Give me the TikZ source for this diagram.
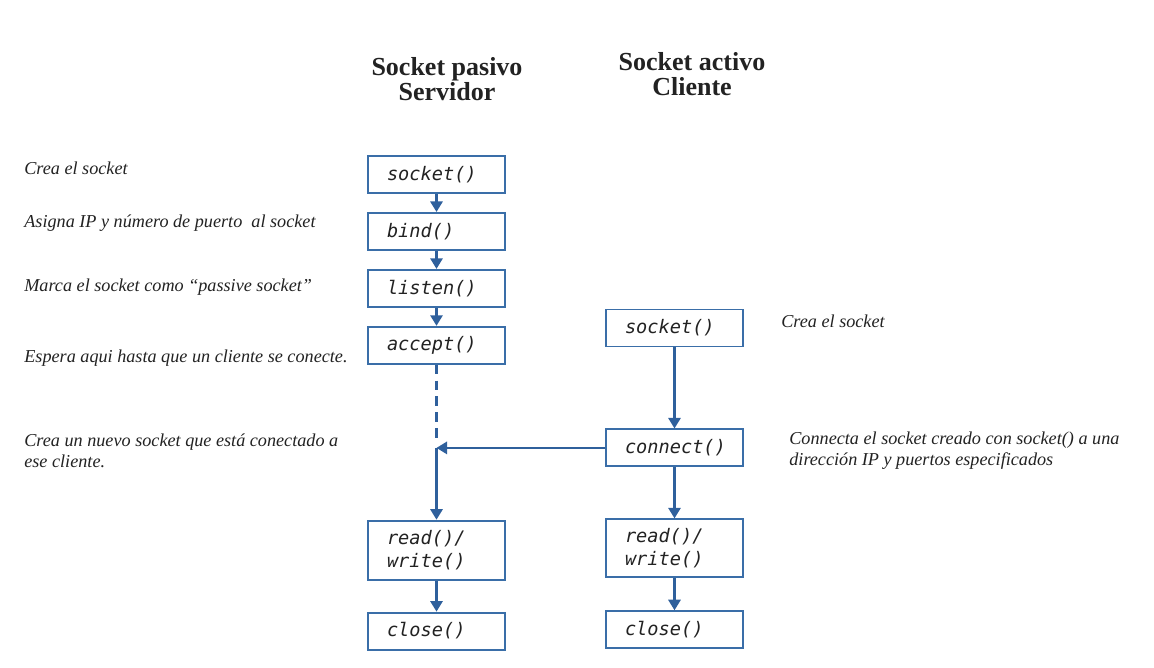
\documentclass[tikz,border=0pt]{standalone}
\usepackage{fontspec}
\setmainfont{Liberation Serif}
\setmonofont{DejaVu Sans Mono}
\usetikzlibrary{arrows.meta,positioning}

\definecolor{boxblue}{HTML}{3A6EA8}
\definecolor{arrblue}{HTML}{2F609C}
\definecolor{txtgray}{HTML}{222222}

\begin{document}
\begin{tikzpicture}[
      x=0.02cm,y=-0.02cm,
      node distance=0.36cm,
      call/.style={draw=boxblue,line width=1.1pt,minimum width=2.74cm,
                   minimum height=0.74cm,text width=1.98cm,align=left,
                   inner xsep=0.38cm,text=txtgray,
                   font=\ttfamily\itshape\fontsize{10.6}{13}\selectfont},
      note/.style={anchor=west,align=left,inner sep=0pt,text=txtgray,
                   font=\itshape\fontsize{10.35}{12}\selectfont},
      head/.style={align=center,text=txtgray,
                   font=\bfseries\fontsize{14.8}{13.8}\selectfont},
      arr/.style={-{Triangle[length=6pt,width=7pt]},line width=1.2pt,arrblue},
    ]
    \useasboundingbox (0,0) rectangle (1154,668);

    % headings
    \node[head] (shead) at (447,79) {Socket pasivo\\Servidor};
    \node[head] (chead) at (692,74) {Socket activo\\Cliente};

    % server side
    \node[call] (ssock) at (436.5,174.5) {socket()};
    \node[call,below=of ssock] (sbind) {bind()};
    \node[call,below=of sbind] (slist) {listen()};
    \node[call,below=of slist] (sacc) {accept()};
    \node[call,below=3.1cm of sacc,minimum height=1.18cm] (srw) {read()/\\write()};
    \node[call,below=0.62cm of srw] (sclose) {close()};

    \draw[arr] (ssock)--(sbind);
    \draw[arr] (sbind)--(slist);
    \draw[arr] (slist)--(sacc);

    % client side
    \node[call] (csock) at (674.5,328) {socket()};
    \node[call,below=1.62cm of csock] (cconn) {connect()};
    \node[call,below=1.02cm of cconn,minimum height=1.16cm] (crw) {read()/\\write()};
    \node[call,below=0.64cm of crw] (cclose) {close()};

    \draw[arr] (csock)--(cconn);
    \draw[arr] (cconn)--(crw);
    \draw[arr] (crw)--(cclose);

    % connection
    \coordinate (join) at (sacc.south |- cconn.west);
    \draw[arrblue,line width=1.2pt,dash pattern=on 5.5pt off 3.5pt] (sacc.south)--([yshift=4pt]join);
    \draw[arr] (cconn)--(join);
    \draw[arr] (join)--(srw);
    \draw[arr] (srw)--(sclose);

    % notes
    \node[note] (n1) at (24,168) {Crea el socket};
    \node[note] (n2) at (24,223) {Asigna IP y número de puerto\ \ al socket};
    \node[note] (n3) at (24,287) {Marca el socket como “passive socket”};
    \node[note] (n4) at (24,358) {Espera aqui hasta que un cliente se conecte.};
    \node[note] (n5) at (24,451) {Crea un nuevo socket que está conectado a\\ese cliente.};
    \node[note] (n6) at (781,321) {Crea el socket};
    \node[note] (n7) at (789,450.5) {Connecta el socket creado con socket() a una\\dirección IP y puertos especificados};
  \end{tikzpicture}
\end{document}
